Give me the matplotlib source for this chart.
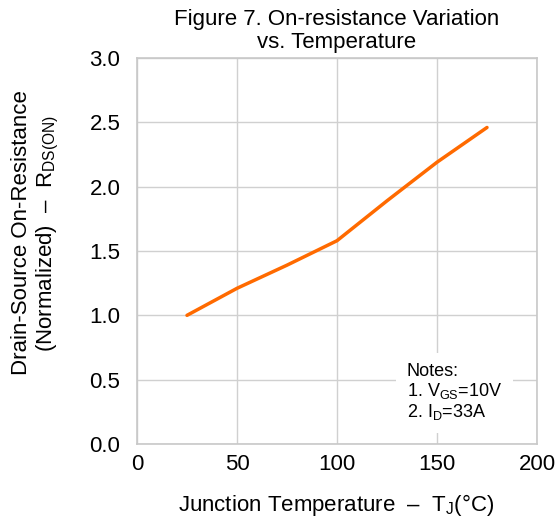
import matplotlib
matplotlib.use("Agg")
import matplotlib.pyplot as plt

temps = [25, 50, 75, 100, 125, 150, 175]
rds_norm = [1.0, 1.21, 1.39, 1.58, 1.89, 2.19, 2.46]
x_ticks = [0, 50, 100, 150, 200]
y_ticks = [0.0, 0.5, 1.0, 1.5, 2.0, 2.5, 3.0]

plt.rcParams['font.family'] = ['Liberation Sans', 'DejaVu Sans']
plt.rcParams['mathtext.fontset'] = 'custom'
plt.rcParams['mathtext.rm'] = 'Liberation Sans'
plt.rcParams['mathtext.it'] = 'Liberation Sans'

W, H = 559, 522
fig = plt.figure(figsize=(W / 100, H / 100), dpi=100)
ax = fig.add_axes([137 / W, 1 - 444 / H, 400 / W, 386 / H])
ax.plot(temps, rds_norm, color='#FF6A00', lw=2.5, solid_capstyle='round', zorder=3)
ax.set_xlim(0, 200)
ax.set_ylim(0, 3.0)
ax.set_xticks(x_ticks)
ax.set_yticks(y_ticks)
ax.set_xticklabels([str(t) for t in x_ticks])
ax.set_yticklabels([f"{t:.1f}" for t in y_ticks])
ax.tick_params(length=0, labelsize=16)
ax.tick_params(axis='y', pad=12)
ax.tick_params(axis='x', pad=7)
ax.grid(True, color='#d0d0d0', lw=1.0)
for s in ax.spines.values():
    s.set_color('#c8c8c8')
    s.set_linewidth(1.2)

fig.text(337 / W, 1 - 31 / H, "Figure 7. On-resistance Variation\nvs. Temperature",
         fontsize=16, ha='center', va='center', linespacing=1.15)
fig.text(336 / W, 1 - 505 / H, r"Junction Temperature  –  T$_\mathrm{J}$(°C)",
         fontsize=16, ha='center', va='center')
fig.text(36 / W, 1 - 233 / H, "Drain-Source On-Resistance\n(Normalized)  –  R$_\\mathrm{DS(ON)}$",
         fontsize=16, ha='center', va='center', rotation=90, linespacing=1.15)

ax.text(135, 0.40, "Notes:\n1. V$_\\mathrm{GS}$=10V\n2. I$_\\mathrm{D}$=33A", fontsize=13, ha='left', va='center',
        linespacing=1.05, zorder=4,
        bbox=dict(facecolor='white', edgecolor='none', boxstyle='square,pad=0.6'))

fig.savefig("out.png", dpi=100)
